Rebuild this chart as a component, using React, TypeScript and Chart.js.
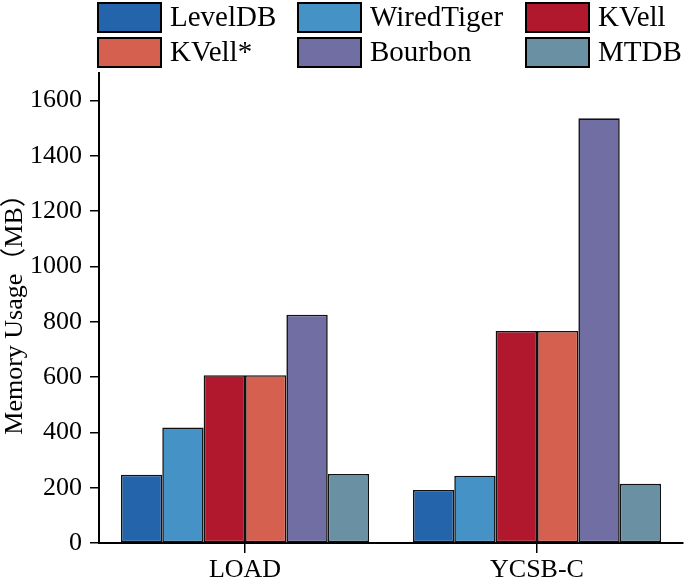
import React, { useEffect, useRef } from 'react';
import { Chart, registerables } from 'chart.js';

Chart.register(...registerables);

const categories = ['LOAD', 'YCSB-C'];
const seriesNames = ['LevelDB', 'WiredTiger', 'KVell', 'KVell*', 'Bourbon', 'MTDB'];
const levelDB = [247, 192];
const wiredTiger = [418, 243];
const kvell = [607, 767];
const kvellStar = [607, 767];
const bourbon = [826, 1536];
const mtdb = [250, 214];
const seriesColors = ['#2464AA', '#4592C6', '#B2182D', '#D6604F', '#706EA2', '#6A91A3'];
const yTicks = [0, 200, 400, 600, 800, 1000, 1200, 1400, 1600];
const yTitle = 'Memory Usage（MB）';

const FONT = "'Liberation Serif', 'Times New Roman', 'Noto Sans CJK SC', serif";

const gridLegend = {
  id: 'gridLegend',
  afterDraw(chart: any, _args: any, opts: any) {
    const ctx = chart.ctx;
    ctx.save();
    const cols = opts.columns as number[];
    chart.data.datasets.forEach((ds: any, i: number) => {
      const col = i % cols.length;
      const row = Math.floor(i / cols.length);
      const x = cols[col];
      const y = opts.top + row * opts.rowHeight;
      const w = opts.boxWidth;
      const h = opts.boxHeight;
      ctx.fillStyle = ds.backgroundColor;
      ctx.fillRect(x, y, w, h);
      ctx.lineWidth = 2;
      ctx.strokeStyle = '#000';
      ctx.strokeRect(x + 1, y + 1, w - 2, h - 2);
      ctx.fillStyle = '#000';
      ctx.font = `${opts.fontSize}px ${FONT}`;
      ctx.textBaseline = 'middle';
      ctx.textAlign = 'left';
      ctx.fillText(ds.label, x + w + opts.gap, y + h / 2 + 1);
    });
    ctx.restore();
  },
};

export default function App() {
  const ref = useRef<HTMLCanvasElement | null>(null);

  useEffect(() => {
    document.body.style.margin = '0';
    const values = [levelDB, wiredTiger, kvell, kvellStar, bourbon, mtdb];
    const chart = new Chart(ref.current as HTMLCanvasElement, {
      type: 'bar',
      data: {
        labels: categories,
        datasets: seriesNames.map((name, i) => ({
          label: name,
          data: values[i],
          backgroundColor: seriesColors[i],
          borderColor: '#111',
          borderWidth: 1.6,
          borderSkipped: false,
          categoryPercentage: 0.85,
          barPercentage: 1.0,
        })),
      },
      options: {
        animation: false,
        responsive: false,
        events: [],
        layout: { padding: { top: 73, right: 2, left: 0, bottom: 0 } },
        plugins: {
          legend: { display: false },
          tooltip: { enabled: false },
          gridLegend: {
            columns: [97, 297, 525],
            top: 2,
            rowHeight: 35,
            boxWidth: 65,
            boxHeight: 31,
            gap: 8,
            fontSize: 29,
          },
        } as any,
        scales: {
          x: {
            type: 'category',
            afterFit: (s: any) => {
              s.height = 37;
            },
            border: { display: true, color: '#000', width: 2 },
            grid: {
              offset: false,
              drawOnChartArea: false,
              drawTicks: true,
              tickLength: 10,
              color: '#000',
              lineWidth: 1.5,
            },
            ticks: { color: '#000', padding: 2, font: { family: FONT, size: 26 } },
          },
          y: {
            type: 'linear',
            min: 0,
            max: 1700,
            afterFit: (s: any) => {
              s.width = 99;
            },
            afterBuildTicks: (s: any) => {
              s.ticks = yTicks.map((v) => ({ value: v }));
            },
            border: { display: true, color: '#000', width: 2 },
            grid: {
              drawOnChartArea: false,
              drawTicks: true,
              tickLength: 9,
              color: '#000',
              lineWidth: 1.5,
            },
            ticks: {
              color: '#000',
              padding: 8,
              font: { family: FONT, size: 26 },
              callback: (v: any) => String(v),
            },
            title: {
              display: true,
              text: yTitle,
              color: '#000',
              padding: 0,
              font: { family: FONT, size: 26 },
            },
          },
        },
      },
      plugins: [gridLegend],
    });
    return () => chart.destroy();
  }, []);

  return (
    <div style={{ width: 685, height: 580, background: '#fff' }}>
      <canvas ref={ref} width={685} height={580} />
    </div>
  );
}
